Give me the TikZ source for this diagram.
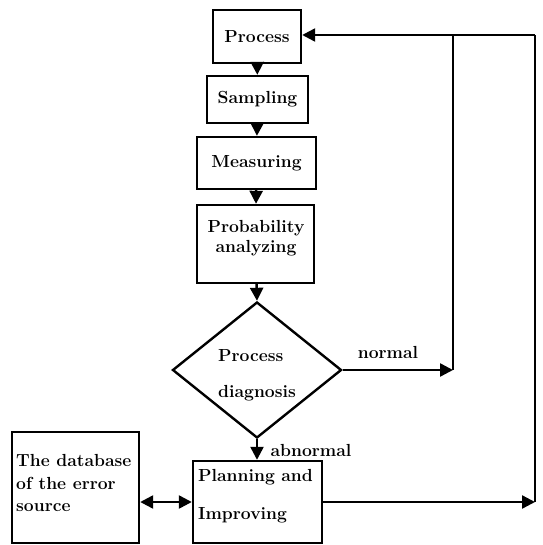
\documentclass[tikz,border=0pt]{standalone}
\usepackage{fontspec}
\usetikzlibrary{shapes.geometric,arrows.meta}
\begin{document}
\begin{tikzpicture}[x=1pt,y=-1pt,
  every node/.style={font=\bfseries\fontsize{17.5}{20}\selectfont},
  box/.style={draw,line width=2.4pt,inner sep=0pt,rectangle},
  txt/.style={inner sep=0pt,align=left,anchor=west},
  conn/.style={line width=2.4pt},
  arr/.style={conn,-{Triangle[length=13pt,width=13pt]}},
  darr/.style={conn,{Triangle[length=13pt,width=13pt]}-{Triangle[length=13pt,width=13pt]}}]
\useasboundingbox (0,0) rectangle (542,545);
\node[box,minimum width=88pt,minimum height=53pt] (process) at (257,36.5) {Process};
\node[box,minimum width=101pt,minimum height=47pt] (sampling) at (257.5,99.5) {Sampling};
\node[box,minimum width=119pt,minimum height=52pt] (measuring) at (256.5,163) {Measuring};
\node[box,minimum width=117pt,minimum height=78pt] (prob) at (255.5,244) {};
\node[txt,anchor=center,align=center,font=\bfseries\fontsize{17.5}{19.5}\selectfont] (probtxt) at (256,238) {Probability\\analyzing};
\node[draw,line width=2.4pt,diamond,inner sep=0pt,minimum width=169pt,minimum height=136pt] (diag) at (257,370) {};
\node[txt,font=\bfseries\fontsize{17.5}{36}\selectfont] (diagtxt) at (218,375) {Process\\diagnosis};
\node[box,minimum width=129pt,minimum height=82pt] (plan) at (257.5,502) {};
\node[txt,font=\bfseries\fontsize{17.5}{38}\selectfont] (plantxt) at (198,496) {Planning and\\Improving};
\node[box,minimum width=127pt,minimum height=111pt] (db) at (75.5,487.5) {};
\node[txt,font=\bfseries\fontsize{17.5}{22.5}\selectfont] (dbtxt) at (16,483) {The database\\of the error\\source};
\node[inner sep=0pt] (normal) at (388,352) {normal};
\node[inner sep=0pt] (abnormal) at (311,450) {abnormal};
\coordinate (n1) at (453,370);
\coordinate (t1) at (453,35);
\coordinate (t2) at (535,35);
\coordinate (r1) at (535,502);
\draw[arr] (process) -- (sampling);
\draw[arr] (sampling) -- (measuring);
\draw[arr] (measuring) -- (prob);
\draw[arr] (prob) -- (diag.north);
\draw[arr] (diag.south) -- (plan.north -| diag.south);
\draw[arr] (diag.east) -- (n1);
\draw[conn] (n1) -- (t1);
\draw[arr] (t2) -- (t2 -| process.east);
\draw[arr] (plan.east) -- (r1);
\draw[conn] (r1) -- (t2);
\draw[darr] (plan.west -| db.east) -- (plan.west);
\end{tikzpicture}
\end{document}
